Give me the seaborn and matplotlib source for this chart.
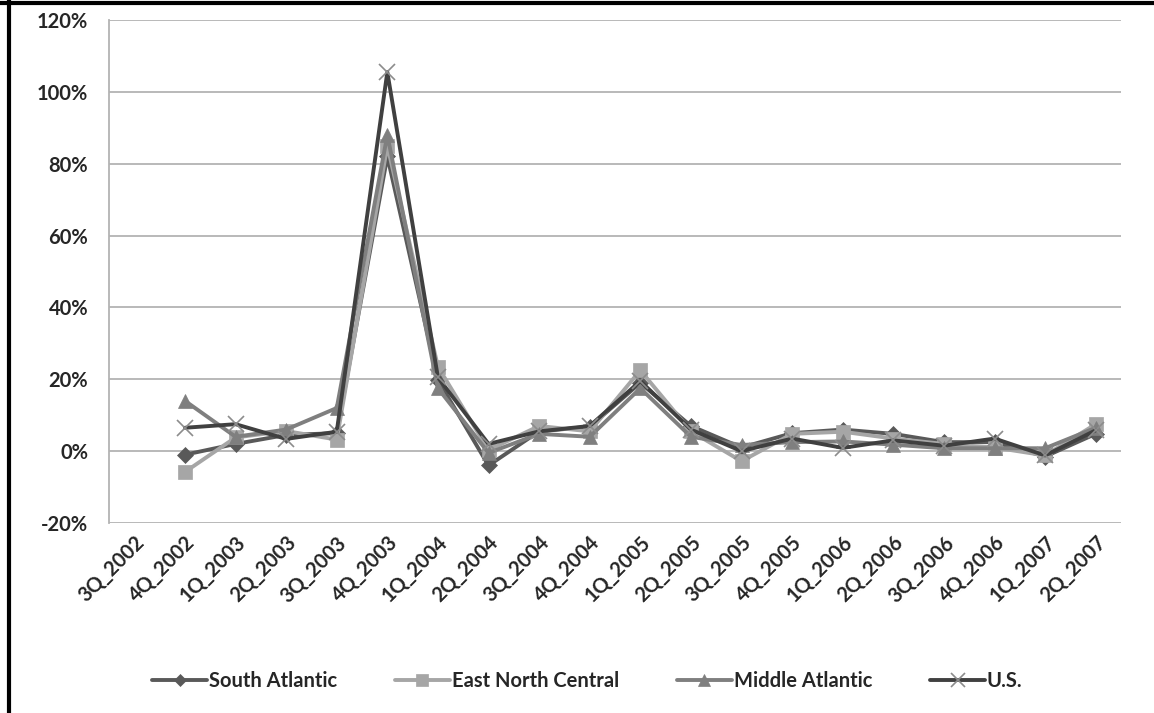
"""
Quarterly change by region, redrawn from the Excel chart.
"""

import numpy as np
import pandas as pd
import matplotlib
matplotlib.use('Agg')
import matplotlib.pyplot as plt
import seaborn as sns
from matplotlib.lines import Line2D
from matplotlib.ticker import MultipleLocator, FuncFormatter

quarters = ['3Q_2002', '4Q_2002', '1Q_2003', '2Q_2003', '3Q_2003', '4Q_2003',
            '1Q_2004', '2Q_2004', '3Q_2004', '4Q_2004', '1Q_2005', '2Q_2005',
            '3Q_2005', '4Q_2005', '1Q_2006', '2Q_2006', '3Q_2006', '4Q_2006',
            '1Q_2007', '2Q_2007']

# values in percent, first quarter has no data
south_atlantic = [np.nan, -1.0, 2.0, 4.5, 5.0, 82.0, 19.8, -4.0, 5.5, 6.8,
                  19.0, 7.0, 1.0, 5.0, 6.0, 4.8, 2.5, 2.5, -1.5, 4.8]
east_north_central = [np.nan, -5.8, 3.8, 5.6, 3.2, 85.0, 23.5, 0.3, 7.0, 5.5,
                      22.5, 5.5, -2.8, 4.8, 5.4, 3.5, 2.0, 1.0, -1.2, 7.5]
middle_atlantic = [np.nan, 14.0, 4.0, 6.0, 12.0, 88.0, 17.5, -0.5, 4.8, 4.0,
                   17.5, 4.0, 1.7, 2.5, 2.7, 1.8, 0.8, 0.8, 0.8, 6.5]
us = [np.nan, 6.5, 7.5, 3.4, 5.4, 105.5, 20.5, 2.0, 5.5, 7.0,
      19.5, 6.0, 0.0, 3.5, 0.9, 3.0, 1.5, 3.5, -1.2, 5.8]

series = [
    ('South Atlantic', south_atlantic, '#595959', 'D', 8, '#595959'),
    ('East North Central', east_north_central, '#a6a6a6', 's', 10, '#a6a6a6'),
    ('Middle Atlantic', middle_atlantic, '#7f7f7f', '^', 10, '#7f7f7f'),
    ('U.S.', us, '#404040', 'x', 12, '#8c8c8c'),
]

sns.set_style('white')
plt.rcParams['font.family'] = ['Lato', 'DejaVu Sans']

fig = plt.figure(figsize=(11.54, 7.13), dpi=100)
ax = fig.add_axes([0.0945, 0.2665, 0.8769, 0.7055])

x = np.arange(len(quarters))
handles = []
for name, vals, color, marker, ms, mcolor in series:
    df = pd.DataFrame({'q': x, 'v': vals}).dropna()
    mew = 1.2 if marker == 'x' else 0.5
    sns.lineplot(data=df, x='q', y='v', ax=ax, color=color, linewidth=2.8,
                 marker=marker, markersize=ms, markerfacecolor=mcolor,
                 markeredgecolor=mcolor, markeredgewidth=mew,
                 sort=False, legend=False)
    handles.append(Line2D([], [], color=color, linewidth=2.8, marker=marker,
                          markersize=ms * 0.8, markerfacecolor=mcolor,
                          markeredgecolor=mcolor, markeredgewidth=mew,
                          label=name))

ax.set_xlim(-0.5, len(quarters) - 0.5)
ax.set_ylim(-20, 120)
ax.yaxis.set_major_locator(MultipleLocator(20))
ax.yaxis.set_major_formatter(FuncFormatter(lambda v, p: f'{v:.0f}%'))
ax.grid(axis='y', color='#b3b3b3', linewidth=1.3)
ax.set_axisbelow(True)
ax.set_xticks(x)
ax.set_xticklabels(quarters, rotation=45, ha='right', rotation_mode='anchor')
ax.set_xlabel('')
ax.set_ylabel('')
for side in ['top', 'right', 'bottom']:
    ax.spines[side].set_visible(False)
ax.spines['left'].set_color('#b3b3b3')
ax.spines['left'].set_linewidth(1.3)
ax.tick_params(axis='both', length=0, labelsize=14.5)
ax.tick_params(axis='y', pad=15)
ax.tick_params(axis='x', pad=7)
for lab in ax.get_xticklabels() + ax.get_yticklabels():
    lab.set_fontweight('bold')

fig.legend(handles=handles, loc='center', bbox_to_anchor=(0.509, 0.045), ncol=4,
           frameon=False, handlelength=2.7, handletextpad=0.1, columnspacing=2.9,
           prop={'weight': 'bold', 'size': 14.5})

# frame of the pasted figure (top and left edge only)
fig.add_artist(Line2D([0, 1], [0.996, 0.996], transform=fig.transFigure,
                      color='black', linewidth=3))
fig.add_artist(Line2D([0.008, 0.008], [0, 1], transform=fig.transFigure,
                      color='black', linewidth=3))

fig.savefig('out.png', dpi=100)
